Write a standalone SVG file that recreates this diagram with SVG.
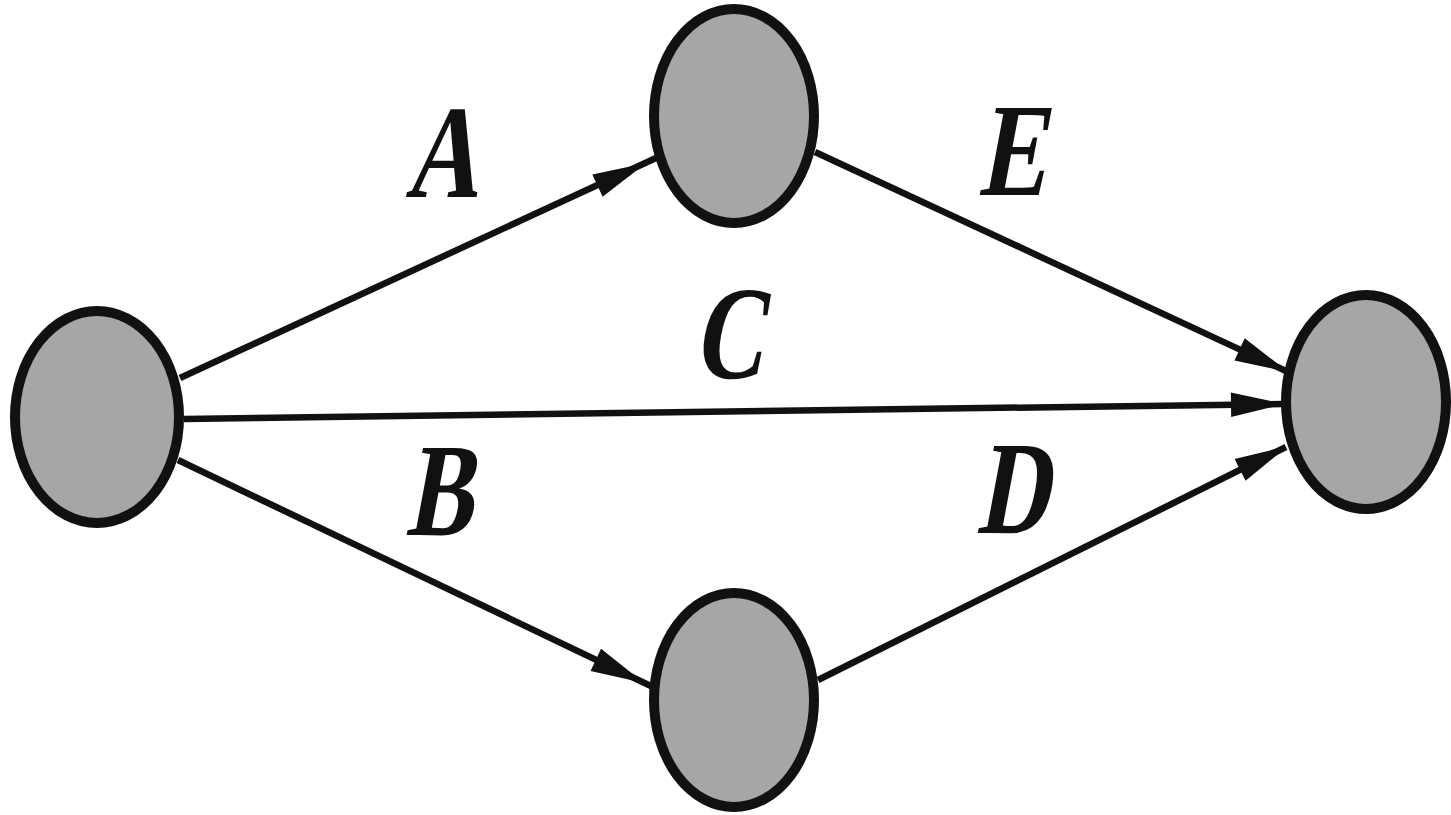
<svg xmlns="http://www.w3.org/2000/svg" width="1451" height="815" viewBox="0 0 1451 815">
<style>
.node{fill:#a6a6a6;stroke:#111;stroke-width:10}
.edge{stroke:#111;stroke-width:6.5;fill:none}
.head{fill:#111;stroke:#111;stroke-width:2;stroke-linejoin:miter}
.lbl{font-family:"Liberation Serif","Times New Roman",serif;font-weight:bold;font-size:100px;fill:#111}
</style>
<rect width="1451" height="815" fill="#fff"/>
<g id="connectors">
<line class="edge" x1="180" y1="378" x2="656" y2="158"/>
<polygon class="head" points="642,165 603.0,195.1 593.8,175.1"/>
<line class="edge" x1="184" y1="419" x2="1282" y2="404"/>
<polygon class="head" points="1280,404 1232.15,415.66 1231.85,393.66"/>
<line class="edge" x1="178" y1="460" x2="655" y2="688"/>
<polygon class="head" points="640,681 592.0,670.2 601.4,650.4"/>
<line class="edge" x1="815" y1="152" x2="1286" y2="371"/>
<polygon class="head" points="1284,370 1235.9,359.8 1245.1,339.8"/>
<line class="edge" x1="818" y1="680" x2="1286" y2="447"/>
<polygon class="head" points="1284,448 1245.9,479.2 1236.1,459.6"/>
</g>
<g id="n1"><ellipse class="node" cx="97" cy="417" rx="82" ry="106"/></g>
<g id="n2"><ellipse class="node" cx="734" cy="116" rx="80" ry="107"/></g>
<g id="n3"><ellipse class="node" cx="734" cy="700" rx="80" ry="107"/></g>
<g id="n4"><ellipse class="node" cx="1366" cy="402" rx="80" ry="107"/></g>
<g id="labels">
<text class="lbl" transform="translate(405,197) scale(1,1.33) skewX(-14)">A</text>
<text class="lbl" transform="translate(978,195) scale(1,1.33) skewX(-14)">E</text>
<text class="lbl" transform="translate(692,378) scale(1,1.33) skewX(-14)">C</text>
<text class="lbl" transform="translate(405,535) scale(1,1.33) skewX(-14)">B</text>
<text class="lbl" transform="translate(976,533) scale(1,1.33) skewX(-14)">D</text>
</g>
</svg>
